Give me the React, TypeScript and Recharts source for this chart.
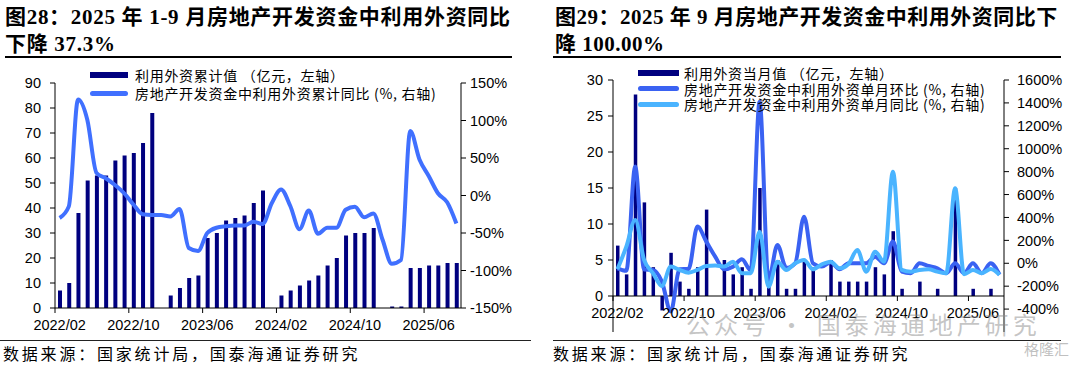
import React from 'react';
import { ComposedChart, Bar, Line, XAxis, YAxis, ReferenceLine } from 'recharts';

// ---------- categories ----------
const months = [
  '2022/02', '2022/03', '2022/04', '2022/05', '2022/06', '2022/07', '2022/08', '2022/09', '2022/10', '2022/11', '2022/12',
  '2023/01', '2023/02', '2023/03', '2023/04', '2023/05', '2023/06', '2023/07', '2023/08', '2023/09', '2023/10', '2023/11', '2023/12',
  '2024/01', '2024/02', '2024/03', '2024/04', '2024/05', '2024/06', '2024/07', '2024/08', '2024/09', '2024/10', '2024/11', '2024/12',
  '2025/01', '2025/02', '2025/03', '2025/04', '2025/05', '2025/06', '2025/07', '2025/08', '2025/09',
];

// ---------- left chart: cumulative ----------
const cumValue: (number | null)[] = [
  7, 10, 38, 51, 53, 53, 59, 61, 62, 66, 78,
  null, 5, 8, 12, 13, 28, 30, 35, 36, 37, 42, 47,
  null, 5, 7, 9, 11, 13, 17, 20, 29, 30, 30, 32,
  null, 0.6, 0.6, 16, 16, 17, 17, 18, 18,
];
const cumYoY: number[] = [
  -30, -14.5, 128, 101, 30, 23, 14, 3, -12, -25, -26,
  -26, -28, -18, -70, -74, -50, -43, -41, -40, -40, -35, -38,
  -10, 8, -14, -45, -20, -51, -43, -43, -19, -15, -29, -24,
  -59, -91, -86, 86, 48, 26, 3, -9, -37.3,
];

// ---------- right chart: monthly ----------
const monthValue: (number | null)[] = [
  7, 3, 28, 13, 4, -2, 6, 2, 1, 4, 12,
  null, 5, 3, 4, 1, 15, 2, 5, 1, 1, 5, 4,
  null, 5, 2, 2, 2, 2, 4, 3, 9, 1, 0, 2,
  null, 1, 0, 15, 0, 1, 0, 1, 0,
];
const monthMoM: number[] = [
  -44, -65, 844, -55, -58, -160, -420, -52, -50, 320, 189,
  58, -52, -30, 35, -60, 1411, -150, 160, -40, 0, 407, 0,
  -29, 10, -52, 0, 0, 0, 58, 0, 189, -73, -87, 0,
  -23, -44, -87, 0, -87, 0, -87, 0, -100,
];
const monthYoY: number[] = [
  -52, 145, 378, 29, -87, -198, -29, -58, -82, -58, -23,
  -20, -29, 14, -87, -87, 276, -204, 14, -58, 0, 29, -52,
  -9, 14, -44, -6, 116, -73, 101, 14, 800, -58, -73, -58,
  -52, -73, -87, 655, -95, -58, -87, -50, -100,
];

// ---------- tick labels ----------
const leftTicksL = [0, 10, 20, 30, 40, 50, 60, 70, 80, 90];
const leftTicksR = [-150, -100, -50, 0, 50, 100, 150];
const rightTicksL = [-5, 0, 5, 10, 15, 20, 25, 30];
const rightTicksR = [-600, -400, -200, 0, 200, 400, 600, 800, 1000, 1200, 1400, 1600];

const leftData = months.map((m, i) => ({ month: m, cum: cumValue[i], yoy: cumYoY[i] }));
const rightData = months.map((m, i) => ({ month: m, val: monthValue[i], mom: monthMoM[i], yoy: monthYoY[i] }));

// ---------- styles ----------
const NAVY = '#00007F';
const LINE_L = '#4070FF';
const MOM = '#3A62F2';
const YOY = '#4AB4FF';
const FONT_AXIS = '"Liberation Sans", Arial, sans-serif';
const FONT_CJK = '"Noto Sans CJK SC", "Liberation Serif", serif';
const FONT_TITLE = '"Liberation Serif", "Times New Roman", "Noto Sans CJK SC", serif';

// layout of the two chart boxes
const L = { w: 540, h: 280, m: { top: 23, right: 19, bottom: 2, left: 5 }, yl: 50, yr: 60, xh: 30 };
const R = { w: 540, h: 280, m: { top: 20, right: 10, bottom: 2, left: 5 }, yl: 68, yr: 66, xh: 6 };
const L_BAND = (L.w - L.m.left - L.m.right - L.yl - L.yr) / months.length;
const R_BAND = (R.w - R.m.left - R.m.right - R.yl - R.yr) / months.length;
const R_PLOT_H = R.h - R.m.top - R.m.bottom - R.xh;
const R_LIFT = (R_PLOT_H * (0 - rightTicksL[0])) / (rightTicksL[rightTicksL.length - 1] - rightTicksL[0]);

const CategoryTick = (props: any) => {
  const { x = 0, y = 0, payload, band, lift } = props;
  const y0 = y - lift;
  const bx = x - band / 2;
  return (
    <g>
      <line x1={bx} y1={y0} x2={bx} y2={y0 + 5} stroke="#000" strokeWidth={1} />
      <text x={x} y={y0 + 12} dy="0.71em" textAnchor="middle" fontSize={14.5} fontFamily={FONT_AXIS} fill="#000">
        {payload?.value}
      </text>
    </g>
  );
};

const yTick = { fontSize: 14.5, fill: '#000', fontFamily: FONT_AXIS };
const pct = (v: number) => `${v}%`;

const legendText: React.CSSProperties = {
  position: 'absolute',
  fontFamily: FONT_CJK,
  fontSize: 14,
  letterSpacing: 0.7,
  lineHeight: '18px',
  color: '#000',
  whiteSpace: 'pre',
};

function LeftChart() {
  return (
    <ComposedChart width={L.w} height={L.h} data={leftData} margin={L.m}>
      <XAxis
        dataKey="month"
        interval={7}
        height={L.xh}
        tickSize={0}
        tickMargin={0}
        tickLine={false}
        axisLine={{ stroke: '#000' }}
        tick={(p: any) => <CategoryTick {...p} band={L_BAND} lift={0} />}
      />
      <YAxis
        yAxisId="l"
        domain={[0, 90]}
        ticks={leftTicksL}
        width={L.yl}
        tickSize={5}
        tickMargin={9}
        axisLine={{ stroke: '#000' }}
        tickLine={{ stroke: '#000' }}
        tick={yTick}
      />
      <YAxis
        yAxisId="r"
        orientation="right"
        domain={[-150, 150]}
        ticks={leftTicksR}
        width={L.yr}
        tickSize={5}
        tickMargin={4}
        tickFormatter={pct}
        axisLine={{ stroke: '#000' }}
        tickLine={{ stroke: '#000' }}
        tick={{ ...yTick, textAnchor: 'start' }}
      />
      <Bar yAxisId="l" dataKey="cum" fill={NAVY} barSize={4} isAnimationActive={false} />
      <Line
        yAxisId="r"
        dataKey="yoy"
        type="monotone"
        stroke={LINE_L}
        strokeWidth={4}
        dot={false}
        activeDot={false}
        isAnimationActive={false}
      />
    </ComposedChart>
  );
}

function RightChart() {
  return (
    <ComposedChart width={R.w} height={R.h} data={rightData} margin={R.m}>
      <XAxis
        dataKey="month"
        interval={7}
        height={R.xh}
        tickSize={0}
        tickMargin={0}
        tickLine={false}
        axisLine={false}
        tick={(p: any) => <CategoryTick {...p} band={R_BAND} lift={R_LIFT} />}
      />
      <YAxis
        yAxisId="l"
        domain={[-5, 30]}
        ticks={rightTicksL}
        width={R.yl}
        tickSize={5}
        tickMargin={5}
        axisLine={{ stroke: '#000' }}
        tickLine={{ stroke: '#000' }}
        tick={yTick}
      />
      <YAxis
        yAxisId="r"
        orientation="right"
        domain={[-600, 1600]}
        ticks={rightTicksR}
        width={R.yr}
        tickSize={5}
        tickMargin={8}
        tickFormatter={pct}
        axisLine={{ stroke: '#000' }}
        tickLine={{ stroke: '#000' }}
        tick={{ ...yTick, textAnchor: 'start' }}
      />
      <ReferenceLine yAxisId="l" y={0} stroke="#000" strokeWidth={1} />
      <Line
        yAxisId="r"
        dataKey="mom"
        type="monotone"
        stroke={MOM}
        strokeWidth={4}
        dot={false}
        activeDot={false}
        isAnimationActive={false}
      />
      <Line
        yAxisId="r"
        dataKey="yoy"
        type="monotone"
        stroke={YOY}
        strokeWidth={4}
        dot={false}
        activeDot={false}
        isAnimationActive={false}
      />
      <Bar yAxisId="l" dataKey="val" fill={NAVY} barSize={3.5} isAnimationActive={false} />
    </ComposedChart>
  );
}

const titleStyle: React.CSSProperties = {
  position: 'absolute',
  top: 4,
  fontFamily: FONT_TITLE,
  fontWeight: 700,
  fontSize: 21,
  lineHeight: '27px',
  letterSpacing: 0.7,
  color: '#000',
  whiteSpace: 'pre',
};

const sourceStyle: React.CSSProperties = {
  position: 'absolute',
  top: 344,
  fontFamily: FONT_CJK,
  fontSize: 16,
  letterSpacing: 2.8,
  lineHeight: '18px',
  color: '#000',
  whiteSpace: 'pre',
};

export default function App() {
  return (
    <div style={{ position: 'absolute', left: 0, top: 0, width: 1080, height: 365, background: '#fff', overflow: 'hidden' }}>
      {/* titles */}
      <div style={{ ...titleStyle, left: 5 }}>{'图28：2025 年 1-9 月房地产开发资金中利用外资同比\n下降 37.3%'}</div>
      <div style={{ ...titleStyle, left: 555, letterSpacing: 0.5 }}>{'图29：2025 年 9 月房地产开发资金中利用外资同比下\n降 100.00%'}</div>
      <div style={{ position: 'absolute', left: 5, top: 56, width: 507, height: 2, background: '#000' }} />
      <div style={{ position: 'absolute', left: 553, top: 56, width: 508, height: 2, background: '#000' }} />

      {/* charts */}
      <div style={{ position: 'absolute', left: 0, top: 60 }}>
        <LeftChart />
      </div>
      <div style={{ position: 'absolute', left: 540, top: 60 }}>
        <RightChart />
      </div>

      {/* left legend */}
      <div style={{ position: 'absolute', left: 90, top: 72, width: 38, height: 6, background: NAVY }} />
      <div style={{ ...legendText, left: 135, top: 66 }}>{'利用外资累计值 （亿元，左轴）'}</div>
      <div style={{ position: 'absolute', left: 90, top: 91, width: 38, height: 5, borderRadius: 2.5, background: LINE_L }} />
      <div style={{ ...legendText, left: 135, top: 84 }}>{'房地产开发资金中利用外资累计同比 (%, 右轴)'}</div>

      {/* right legend */}
      <div style={{ position: 'absolute', left: 638, top: 70, width: 41, height: 6, background: NAVY }} />
      <div style={{ ...legendText, left: 684, top: 63.5 }}>{'利用外资当月值 （亿元，左轴）'}</div>
      <div style={{ position: 'absolute', left: 638, top: 86, width: 41, height: 5, borderRadius: 2.5, background: MOM }} />
      <div style={{ ...legendText, left: 684, top: 79.5 }}>{'房地产开发资金中利用外资单月环比 (%, 右轴)'}</div>
      <div style={{ position: 'absolute', left: 638, top: 101.5, width: 41, height: 5, borderRadius: 2.5, background: YOY }} />
      <div style={{ ...legendText, left: 684, top: 95 }}>{'房地产开发资金中利用外资单月同比 (%, 右轴)'}</div>

      {/* bottom rules and sources */}
      <div style={{ position: 'absolute', left: 0, top: 340, width: 531, height: 1, background: '#222' }} />
      <div style={{ position: 'absolute', left: 553, top: 340, width: 508, height: 1, background: '#222' }} />
      <div style={{ ...sourceStyle, left: 3 }}>{'数据来源：国家统计局，国泰海通证券研究'}</div>
      <div style={{ ...sourceStyle, left: 553 }}>{'数据来源：国家统计局，国泰海通证券研究'}</div>

      {/* watermark */}
      <div
        style={{
          position: 'absolute',
          left: 686,
          top: 310,
          fontFamily: FONT_CJK,
          fontSize: 24,
          letterSpacing: 4,
          lineHeight: '28px',
          color: 'rgba(140,140,140,0.5)',
          whiteSpace: 'pre',
          pointerEvents: 'none',
        }}
      >
        {'公众号 · 国泰海通地产研究'}
      </div>
      <div
        style={{
          position: 'absolute',
          left: 1024,
          top: 340,
          fontFamily: FONT_CJK,
          fontSize: 15,
          lineHeight: '18px',
          color: 'rgba(150,150,150,0.6)',
          whiteSpace: 'pre',
        }}
      >
        {'格隆汇'}
      </div>
    </div>
  );
}
